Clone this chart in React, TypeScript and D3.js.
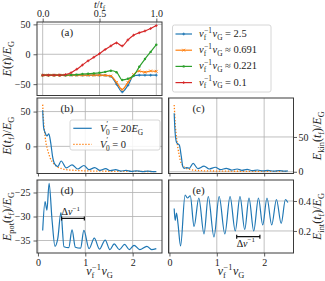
import * as d3 from 'd3';
import React, { useRef, useEffect } from 'react';

const W = 325;
const H = 281;
const serif = '"Liberation Serif", "DejaVu Serif", serif';
const blue = '#1f77b4', orange = '#ff7f0e', green = '#2ca02c', red = '#d62728';

// (a) E(t)/E_G against t/t_f, one curve per ramp speed
const tRel = [0, 0.05, 0.1, 0.15, 0.2, 0.25, 0.3, 0.35, 0.4, 0.45, 0.5, 0.55, 0.6, 0.65, 0.7, 0.75, 0.8, 0.85, 0.9, 0.95, 1.0];
const eSpeed25 = [-35, -35, -35, -35, -35, -35, -35, -35, -35, -35, -35, -35.3, -37, -50, -63, -52, -36, -35, -35, -35, -35];
const eSpeed0691 = [-35, -35, -35, -35, -35, -35, -35, -35, -35, -35, -35, -35.3, -36.5, -47, -59, -47, -34, -28, -30, -28, -28.5];
const eSpeed0221 = [-35, -35, -35, -35, -35, -34.5, -34, -33, -32.5, -32, -31, -29.5, -27.5, -30, -43, -41, -36, -21, -8, 4, 16];
const eSpeed01 = [-35, -35, -35, -35, -34, -31, -25, -18, -11, -5, 1, 8, 14, 19, 14, 24, 32, 36, 39, 43, 48];
const speedLabels = ['= 2.5', '≈ 0.691', '≈ 0.221', '= 0.1'];

// (b) total energy at t_f against v_f^-1 v_G
const vTotBarrier = [0.1, 0.12, 0.15, 0.19, 0.23, 0.27, 0.31, 0.36, 0.42, 0.49, 0.6, 0.72, 0.84, 0.97, 1.08, 1.2, 1.31, 1.43, 1.53, 1.64, 1.75, 1.86, 1.97, 2.08, 2.2, 2.32, 2.43, 2.5];
const eTotBarrier = [52, 27, 20, 15, 18, 5, -15, -26, -29, -21, -31, -26.5, -32.5, -27.5, -33.5, -30.5, -34.5, -32, -35, -33.5, -35.5, -34.5, -36, -35.2, -36.2, -35.5, -36.4, -36.2];
const vTotFree = [0.1, 0.11, 0.13, 0.15, 0.17, 0.2, 0.23, 0.26, 0.3, 0.35, 0.4, 0.5, 0.6, 0.8, 1.0, 1.5, 2.0, 2.5];
const eTotFree = [60, 45, 28, 15, 5, -4, -11, -17, -22, -26, -29, -32, -33.5, -34.5, -35.2, -35.8, -36, -36.2];

// (c) kinetic energy
const vKinBarrier = [0.1, 0.12, 0.15, 0.18, 0.21, 0.25, 0.28, 0.31, 0.36, 0.42, 0.5, 0.6, 0.73, 0.84, 0.97, 1.08, 1.2, 1.31, 1.43, 1.53, 1.64, 1.75, 1.86, 1.97, 2.08, 2.2, 2.32, 2.43, 2.5];
const eKinBarrier = [84, 56, 42, 40, 38, 22, 8, 5, 6, 5, 12, 4.5, 8, 4, 6.5, 3, 5, 2.5, 4, 2, 3.5, 1.5, 2.5, 1.2, 2, 1, 1.8, 1, 1.3];
const vKinFree = [0.1, 0.11, 0.12, 0.14, 0.17, 0.2, 0.23, 0.27, 0.32, 0.4, 0.5, 0.7, 1.0, 1.5, 2.0, 2.5];
const eKinFree = [96, 84, 70, 55, 38, 26, 16, 10, 6, 4, 2.5, 1.5, 1, 0.7, 0.6, 0.5];

// (d) potential energy
const vPot = [0.1, 0.15, 0.19, 0.235, 0.3, 0.36, 0.42, 0.485, 0.55, 0.65, 0.72, 0.79, 0.9, 0.97, 1.08, 1.19, 1.3, 1.42, 1.52, 1.61, 1.72, 1.83, 1.93, 2.03, 2.15, 2.3, 2.4, 2.5];
const ePot = [-32.9, -26.9, -28.7, -23.1, -31, -36.2, -34.5, -29.2, -36.3, -36.5, -32.8, -36.4, -36.6, -32.9, -36.7, -34.5, -36.8, -34.9, -36.9, -35.7, -36.9, -35.8, -36.9, -36.0, -36.9, -36.2, -36.9, -36.7];

// (e) interaction energy
const vInt = [0.1, 0.12, 0.15, 0.18, 0.235, 0.33, 0.38, 0.44, 0.52, 0.62, 0.73, 0.82, 0.94, 1.05, 1.17, 1.28, 1.39, 1.49, 1.59, 1.68, 1.78, 1.88, 1.97, 2.06, 2.16, 2.26, 2.36, 2.45, 2.5];
const eInt = [0.35, 0.27, 0.32, 0.25, 0.1, 0.44, 0.42, 0.435, 0.23, 0.42, 0.18, 0.43, 0.16, 0.43, 0.18, 0.43, 0.2, 0.43, 0.21, 0.42, 0.2, 0.42, 0.24, 0.42, 0.24, 0.41, 0.25, 0.41, 0.39];

// period brackets [from, to, level]
const bracketPot = [0.5, 0.98, -30.4];
const bracketInt = [1.42, 1.91, 0.162];

const ticksT = [0, 0.5, 1];
const ticksV = [0, 1, 2];
const ticksA = [-50, 0, 50];
const ticksTot = [0, 50];
const ticksKin = [0, 50];
const ticksPot = [-35, -30, -25];
const ticksInt = [0.2, 0.4];

// math-ish text made of tspans
function mathText(sel, parts, size) {
    let cur = 0;
    parts.forEach(p => {
        const off = p.s === 'sub' ? size * 0.27 : p.s === 'sup' ? -size * 0.42 : 0;
        const ts = sel.append('tspan').attr('dy', off - cur).text(p.t);
        cur = off;
        if (p.it) ts.attr('font-style', 'italic');
        if (p.s) ts.attr('font-size', size * 0.7);
        if (p.dx) ts.attr('dx', p.dx);
    });
    return sel;
}

const vfvg = [
    { t: 'v', it: true }, { t: 'f', s: 'sub' }, { t: '−1', s: 'sup', dx: -2.4 },
    { t: 'v', it: true, dx: 0.6 }, { t: 'G', s: 'sub' },
];

function App() {
    const ref = useRef(null);

    useEffect(() => {
        const svg = d3.select(ref.current);
        svg.selectAll('*').remove();
        svg.append('rect').attr('width', W).attr('height', H).attr('fill', '#fff');

        const panel = (key, f, xDom, yDom, xt, yt) => {
            const x = d3.scaleLinear().domain(xDom).range([f.x0, f.x1]);
            const y = d3.scaleLinear().domain(yDom).range([f.y1, f.y0]);
            svg.append('clipPath').attr('id', 'clip-' + key)
                .append('rect')
                .attr('x', f.x0).attr('y', f.y0)
                .attr('width', f.x1 - f.x0).attr('height', f.y1 - f.y0);
            const grid = svg.append('g').attr('stroke', '#b0b0b0').attr('stroke-width', 0.8);
            xt.forEach(v => grid.append('line').attr('x1', x(v)).attr('x2', x(v)).attr('y1', f.y0).attr('y2', f.y1));
            yt.forEach(v => grid.append('line').attr('y1', y(v)).attr('y2', y(v)).attr('x1', f.x0).attr('x2', f.x1));
            const g = svg.append('g').attr('clip-path', 'url(#clip-' + key + ')');
            return { x, y, g, f };
        };

        const styleAxis = (ax) => {
            ax.select('.domain').remove();
            ax.attr('font-family', serif).attr('font-size', 10);
            ax.selectAll('line').attr('stroke', '#333').attr('stroke-width', 0.8);
            ax.selectAll('text').attr('fill', '#222');
        };

        const frame = (p) => {
            svg.append('rect')
                .attr('x', p.f.x0).attr('y', p.f.y0)
                .attr('width', p.f.x1 - p.f.x0).attr('height', p.f.y1 - p.f.y0)
                .attr('fill', 'none').attr('stroke', '#3a3a3a').attr('stroke-width', 1);
        };

        const curve = (p, xs, ys, color, dash) => {
            const line = d3.line()
                .x((d, i) => p.x(xs[i]))
                .y((d, i) => p.y(ys[i]))
                .curve(d3.curveMonotoneX);
            const path = p.g.append('path')
                .attr('d', line(xs))
                .attr('fill', 'none')
                .attr('stroke', color)
                .attr('stroke-width', 1.2);
            if (dash) path.attr('stroke-dasharray', dash).attr('stroke-width', 1.3);
        };

        const marker = (sel, cx, cy, kind, color) => {
            if (kind === 'dot') {
                sel.append('circle').attr('cx', cx).attr('cy', cy).attr('r', 1.2).attr('fill', color);
            } else {
                const r = 1.4;
                const d = kind === 'plus'
                    ? `M${cx - r},${cy}H${cx + r}M${cx},${cy - r}V${cy + r}`
                    : `M${cx - r},${cy - r}L${cx + r},${cy + r}M${cx - r},${cy + r}L${cx + r},${cy - r}`;
                sel.append('path').attr('d', d).attr('stroke', color).attr('stroke-width', 0.9);
            }
        };

        // ---------- (a)
        const pa = panel('a', { x0: 37, x1: 162, y0: 22, y1: 95.5 }, [-0.05, 1.05], [-69, 54], ticksT, ticksA);
        const seriesA = [
            { ys: eSpeed25, color: blue, m: 'plus' },
            { ys: eSpeed0691, color: orange, m: 'cross' },
            { ys: eSpeed0221, color: green, m: 'dot' },
            { ys: eSpeed01, color: red, m: 'plus' },
        ];
        seriesA.forEach(s => {
            curve(pa, tRel, s.ys, s.color);
            tRel.forEach((t, i) => marker(pa.g, pa.x(t), pa.y(s.ys[i]), s.m, s.color));
        });
        styleAxis(svg.append('g').attr('transform', `translate(0,${pa.f.y0})`)
            .call(d3.axisTop(pa.x).tickValues(ticksT).tickSize(3.5).tickPadding(1.5).tickFormat(d3.format('.1f'))));
        styleAxis(svg.append('g').attr('transform', `translate(${pa.f.x0},0)`)
            .call(d3.axisLeft(pa.y).tickValues(ticksA).tickSize(3.5).tickPadding(3).tickFormat(d3.format('d'))));
        frame(pa);

        // ---------- (b)
        const pb = panel('b', { x0: 37, x1: 162, y0: 98, y1: 173.5 }, [-0.02, 2.62], [-39, 69.5], ticksV, ticksTot);
        curve(pb, vTotFree, eTotFree, orange, '1.3,1.7');
        curve(pb, vTotBarrier, eTotBarrier, blue);
        styleAxis(svg.append('g').attr('transform', `translate(0,${pb.f.y1})`)
            .call(d3.axisBottom(pb.x).tickValues(ticksV).tickSize(3).tickFormat(() => '')));
        styleAxis(svg.append('g').attr('transform', `translate(${pb.f.x0},0)`)
            .call(d3.axisLeft(pb.y).tickValues(ticksTot).tickSize(3.5).tickPadding(3).tickFormat(d3.format('d'))));
        frame(pb);

        // ---------- (c)
        const pc = panel('c', { x0: 168.5, x1: 293.5, y0: 98, y1: 173.5 }, [-0.02, 2.62], [-2.5, 106], ticksV, ticksKin);
        curve(pc, vKinFree, eKinFree, orange, '1.3,1.7');
        curve(pc, vKinBarrier, eKinBarrier, blue);
        styleAxis(svg.append('g').attr('transform', `translate(0,${pc.f.y1})`)
            .call(d3.axisBottom(pc.x).tickValues(ticksV).tickSize(3).tickFormat(() => '')));
        styleAxis(svg.append('g').attr('transform', `translate(${pc.f.x1},0)`)
            .call(d3.axisRight(pc.y).tickValues(ticksKin).tickSize(3.5).tickPadding(1.5).tickFormat(d3.format('d'))));
        frame(pc);

        // ---------- (d)
        const pd = panel('d', { x0: 37, x1: 162, y0: 180, y1: 253 }, [-0.02, 2.62], [-37.6, -22.4], ticksV, ticksPot);
        curve(pd, vPot, ePot, blue);
        styleAxis(svg.append('g').attr('transform', `translate(0,${pd.f.y1})`)
            .call(d3.axisBottom(pd.x).tickValues(ticksV).tickSize(3.5).tickPadding(2).tickFormat(d3.format('d'))));
        styleAxis(svg.append('g').attr('transform', `translate(${pd.f.x0},0)`)
            .call(d3.axisLeft(pd.y).tickValues(ticksPot).tickSize(3.5).tickPadding(3).tickFormat(d3.format('d'))));
        frame(pd);

        // ---------- (e)
        const pe = panel('e', { x0: 168.5, x1: 293.5, y0: 180, y1: 253 }, [-0.02, 2.62], [0.053, 0.54], ticksV, ticksInt);
        curve(pe, vInt, eInt, blue);
        styleAxis(svg.append('g').attr('transform', `translate(0,${pe.f.y1})`)
            .call(d3.axisBottom(pe.x).tickValues(ticksV).tickSize(3.5).tickPadding(2).tickFormat(d3.format('d'))));
        styleAxis(svg.append('g').attr('transform', `translate(${pe.f.x1},0)`)
            .call(d3.axisRight(pe.y).tickValues(ticksInt).tickSize(3.5).tickPadding(1.5).tickFormat(d3.format('.1f'))));
        frame(pe);

        // brackets
        const bracket = (p, b, textDy) => {
            const x1 = p.x(b[0]), x2 = p.x(b[1]), yy = p.y(b[2]);
            svg.append('path')
                .attr('d', `M${x1},${yy - 2}V${yy + 2}M${x1},${yy}H${x2}M${x2},${yy - 2}V${yy + 2}`)
                .attr('stroke', '#111').attr('stroke-width', 1.2).attr('fill', 'none');
            const t = svg.append('text').attr('x', x1).attr('y', yy + textDy)
                .attr('font-family', serif).attr('font-size', 10).attr('fill', '#111');
            mathText(t, [{ t: 'Δ' }, { t: 'v', it: true }, { t: '−1', s: 'sup' }], 10);
        };
        bracket(pd, bracketPot, -3);
        bracket(pe, bracketInt, 10);

        // panel tags
        [[pa, '(a)'], [pb, '(b)'], [pc, '(c)'], [pd, '(d)'], [pe, '(e)']].forEach(([p, s]) => {
            svg.append('text')
                .attr('x', p.f.x0 + 0.24 * (p.f.x1 - p.f.x0))
                .attr('y', p.f.y0 + 14)
                .attr('text-anchor', 'middle')
                .attr('font-family', serif).attr('font-size', 11).attr('fill', '#222')
                .text(s);
        });

        // axis titles
        const label = (x, y, rot, parts, size = 12) => {
            const t = svg.append('text')
                .attr('transform', `translate(${x},${y}) rotate(${rot})`)
                .attr('text-anchor', 'middle')
                .attr('font-family', serif).attr('font-size', size).attr('fill', '#222');
            mathText(t, parts, size);
        };
        label(99.5, 8.2, 0, [{ t: 't', it: true }, { t: '/' }, { t: 't', it: true }, { t: 'f', s: 'sub' }], 10.5);
        label(99.5, 275, 0, vfvg);
        label(231, 275, 0, vfvg);
        const eG = [{ t: '/' }, { t: 'E', it: true }, { t: 'G', s: 'sub' }];
        const tf = [{ t: '(' }, { t: 't', it: true }, { t: 'f', s: 'sub' }, { t: ')' }];
        label(11, 58.7, -90, [{ t: 'E', it: true }, { t: '(' }, { t: 't', it: true }, { t: ')' }, ...eG]);
        label(11, 135.7, -90, [{ t: 'E', it: true }, ...tf, ...eG]);
        label(11, 216.5, -90, [{ t: 'E', it: true }, { t: 'pot', s: 'sub' }, ...tf, ...eG]);
        label(321, 135.7, -90, [{ t: 'E', it: true }, { t: 'kin', s: 'sub' }, ...tf, ...eG]);
        label(321, 216.5, -90, [{ t: 'E', it: true }, { t: 'int', s: 'sub' }, ...tf, ...eG]);

        // legend for (a)
        const la = svg.append('g');
        la.append('rect').attr('x', 172.5).attr('y', 25).attr('width', 98.5).attr('height', 67)
            .attr('rx', 2).attr('fill', '#fff').attr('stroke', '#cccccc').attr('stroke-width', 0.8);
        seriesA.forEach((s, i) => {
            const yy = 34 + i * 16.2;
            la.append('line').attr('x1', 175.5).attr('x2', 192).attr('y1', yy).attr('y2', yy)
                .attr('stroke', s.color).attr('stroke-width', 1.2);
            marker(la, 183.7, yy, s.m, s.color);
            const t = la.append('text').attr('x', 199).attr('y', yy + 3)
                .attr('font-family', serif).attr('font-size', 10.5).attr('fill', '#222');
            mathText(t, [...vfvg.map(p => p.s === 'sup' ? { ...p, dx: -2.1 } : p), { t: ' ' + speedLabels[i] }], 10.5);
        });

        // legend for (b)
        const lb = svg.append('g');
        lb.append('rect').attr('x', 70).attr('y', 120).attr('width', 90).attr('height', 30)
            .attr('rx', 2).attr('fill', '#fff').attr('fill-opacity', 0.85).attr('stroke', '#cccccc').attr('stroke-width', 0.8);
        const vPrime = [{ t: 'V', it: true }, { t: '′', s: 'sup' }, { t: '0', s: 'sub', dx: -2 }];
        [
            { color: blue, dash: null, parts: [...vPrime, { t: ' = 20' }, { t: 'E', it: true }, { t: 'G', s: 'sub' }] },
            { color: orange, dash: '1.3,1.7', parts: [...vPrime, { t: ' = 0' }] },
        ].forEach((e, i) => {
            const yy = 128.3 + i * 16;
            const l = lb.append('line').attr('x1', 73.3).attr('x2', 91.7).attr('y1', yy).attr('y2', yy)
                .attr('stroke', e.color).attr('stroke-width', 1.2);
            if (e.dash) l.attr('stroke-dasharray', e.dash).attr('stroke-width', 1.3);
            const t = lb.append('text').attr('x', 100).attr('y', yy + 3.5)
                .attr('font-family', serif).attr('font-size', 10.5).attr('fill', '#222');
            mathText(t, e.parts, 10.5);
        });
    }, []);

    return (
        <svg ref={ref} width={W} height={H}
            style={{ position: 'absolute', left: 0, top: 0, display: 'block' }}>
        </svg>
    );
}

export default App;
